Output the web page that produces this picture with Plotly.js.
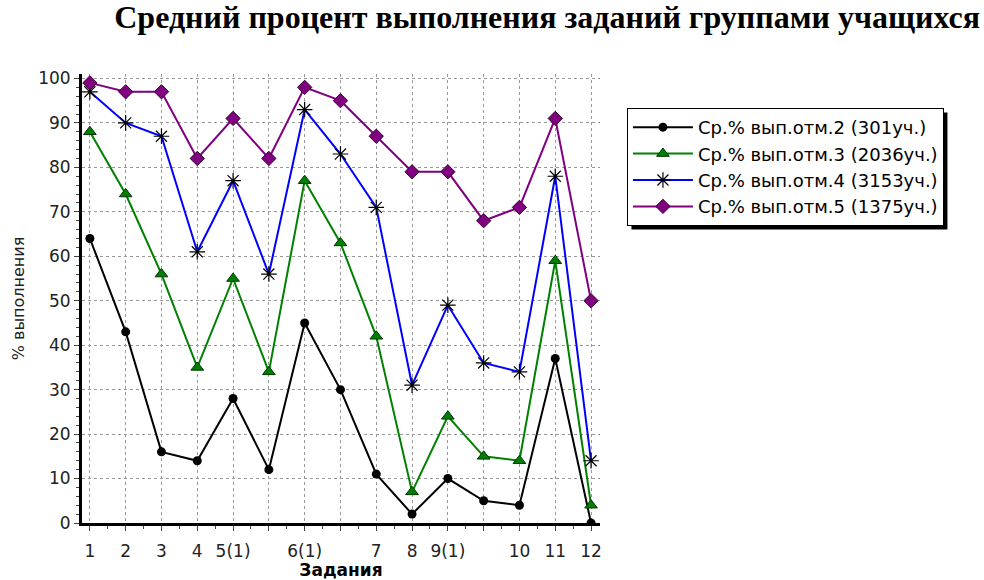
<!DOCTYPE html>
<html><head><meta charset="utf-8">
<script src="https://cdn.plot.ly/plotly-3.0.1.min.js"></script>
<style>body{margin:0;background:#fff}#c{width:984px;height:580px}</style>
</head><body><div id="c"></div>
<script>
const tickLabels = ["1","2","3","4","5(1)","","6(1)","","7","8","9(1)","","10","11","12"];
const names = ["Ср.% вып.отм.2 (301уч.)","Ср.% вып.отм.3 (2036уч.)","Ср.% вып.отм.4 (3153уч.)","Ср.% вып.отм.5 (1375уч.)"];
const s2 = [64,43,16,14,28,12,45,30,11,2,10,5,4,37,0];
const s3 = [88,74,56,35,55,34,77,63,42,7,24,15,14,59,4];
const s4 = [97,90,87,61,77,56,93,83,71,31,49,36,34,78,14];
const s5 = [99,97,97,82,91,82,98,95,87,79,79,68,71,91,50];
const xs = tickLabels.map((_, i) => i);

const traces = [
  {y:s2, color:"#000000", marker:{symbol:"circle", size:9, color:"#000000"}},
  {y:s3, color:"#008000", marker:{symbol:"triangle-up", size:11, color:"#008000", line:{color:"#003300", width:1}}},
  {y:s4, color:"#0000ff", marker:{symbol:"asterisk-open", size:13, color:"#000000", line:{color:"#000000", width:1.2}}},
  {y:s5, color:"#800080", marker:{symbol:"diamond", size:11, color:"#800080", line:{color:"#330033", width:1}}}
].map((t, i) => ({
  type:"scatter", mode:"lines+markers", x:xs, y:t.y, name:names[i],
  line:{color:t.color, width:2}, marker:t.marker
}));

const gridDash = "3px,3px";
const sans = "DejaVu Sans, Arial, sans-serif";
const layout = {
  width:984, height:580,
  margin:{l:82, r:384, t:74, b:57},
  paper_bgcolor:"#fff", plot_bgcolor:"#fff",
  font:{family:sans, size:17, color:"#222"},
  title:{text:"<b>Средний процент выполнения заданий группами учащихся</b>",
    font:{family:"Liberation Serif, Times New Roman, serif", size:32, color:"#000"},
    xref:"container", x:0.556, xanchor:"center", yref:"container", y:0.9707, yanchor:"middle"},
  xaxis:{range:[-0.22,14.25], tickmode:"array", tickvals:xs, ticktext:tickLabels,
    showgrid:true, gridcolor:"#999", griddash:gridDash, gridwidth:1,
    showline:true, linecolor:"#000", linewidth:3, zeroline:false,
    ticks:"outside", ticklen:5, tickcolor:"#444", ticklabelstandoff:6,
    minor:{dtick:0.5, tick0:0, ticks:"outside", ticklen:3, tickcolor:"#444", showgrid:false},
    tickfont:{family:sans, size:17, color:"#222"},
    title:{text:"<b>Задания</b>", font:{family:sans, size:17, color:"#000"}, standoff:2}},
  yaxis:{range:[0,101], tickmode:"linear", tick0:0, dtick:10,
    showgrid:true, gridcolor:"#999", griddash:gridDash, gridwidth:1,
    showline:true, linecolor:"#000", linewidth:3, zeroline:false,
    ticks:"outside", ticklen:5, tickcolor:"#444",
    minor:{dtick:2, ticks:"outside", ticklen:3, tickcolor:"#444", showgrid:false},
    tickfont:{family:sans, size:17, color:"#222"},
    title:{text:"% выполнения", font:{family:sans, size:16, color:"#222"}, standoff:10}},
  legend:{x:1.052, xanchor:"left", y:0.9243, yanchor:"top", bgcolor:"#fff",
    bordercolor:"#000", borderwidth:1, font:{family:sans, size:18, color:"#000"},
    tracegroupgap:0, itemwidth:60},
  showlegend:true
};
Plotly.newPlot("c", traces, layout, {displayModeBar:false}).then(gd => {
  const bg = gd.querySelector(".legend .bg");
  if (!bg) return;
  const r = bg.getBoundingClientRect();
  const s = gd._fullLayout._size;
  const px = v => (v - s.l) / s.w;
  const py = v => 1 - (v - s.t) / s.h;
  const off = 4;
  Plotly.relayout(gd, {shapes:[{type:"rect", xref:"paper", yref:"paper", layer:"above",
    x0:px(r.left + off), x1:px(r.right + off), y0:py(r.top + off), y1:py(r.bottom + off),
    fillcolor:"#000", line:{width:0}}]});
});
</script></body></html>
